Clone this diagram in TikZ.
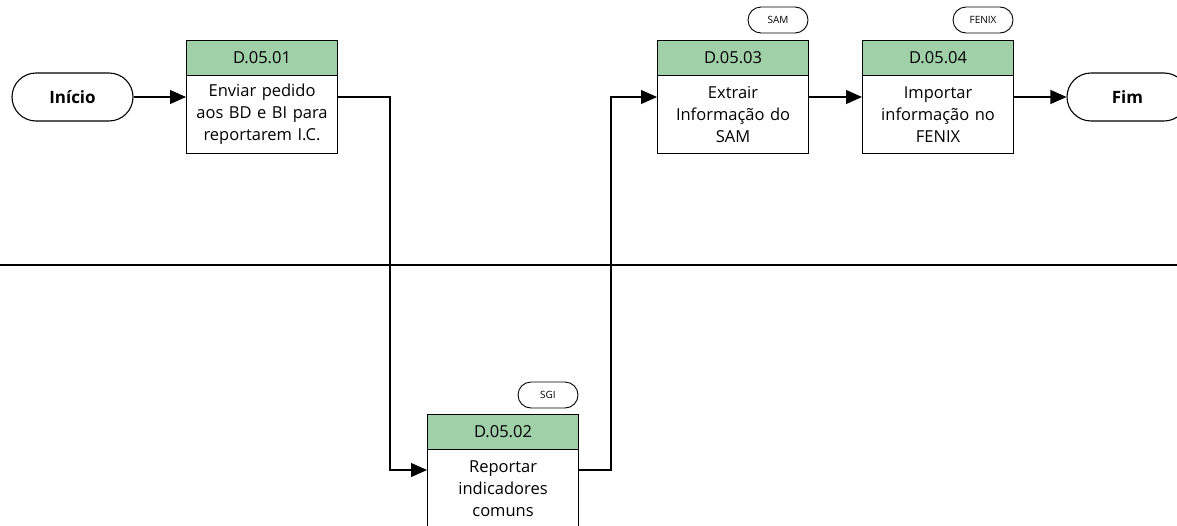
\documentclass[tikz,border=0pt]{standalone}
\usepackage{fontspec}
\setmainfont{Open Sans}
\usetikzlibrary{arrows.meta,calc}
\definecolor{hdr}{RGB}{160,208,168}
\begin{document}
\begin{tikzpicture}[x=1pt,y=-1pt,
  every node/.style={font=\fontsize{16.5}{22}\selectfont, inner sep=0pt, align=center},
  hdrbox/.style={draw=black, line width=1.1pt, fill=hdr, minimum width=151pt, minimum height=35pt, anchor=north west},
  bodybox/.style={draw=black, line width=1.1pt, fill=white, minimum width=151pt, minimum height=78pt, anchor=north west, text width=148pt},
  term/.style={draw=black, line width=1.1pt, rounded corners=24pt, minimum width=121pt, minimum height=48pt, font=\bfseries\fontsize{17}{20}\selectfont},
  tag/.style={draw=black, line width=0.9pt, rounded corners=13pt, minimum width=60pt, minimum height=26pt, font=\fontsize{10}{12}\selectfont},
  flow/.style={draw=black, line width=1.1pt, -{Triangle[length=16pt,width=14pt]}},
  plain/.style={draw=black, line width=1.1pt}]
\useasboundingbox (0,0) rectangle (1177,525);

% lane separator
\coordinate (laneL) at (0,265);
\coordinate (laneR) at (1177,265);
\draw[plain] (laneL) -- (laneR);

% terminals
\node[term] (ini) at (72.5,97) {Início};
\node[term] (fim) at (1127.5,97) {Fim};

% box 1
\node[hdrbox] (h1) at (186,40) {D.05.01};
\node[bodybox] (b1) at (186,75) {Enviar pedido\\aos BD e BI para\\reportarem I.C.};

% box 3
\node[hdrbox] (h3) at (657,40) {D.05.03};
\node[bodybox] (b3) at (657,75) {Extrair\\Informação do\\SAM};
\node[tag] (t3) at (778,20) {SAM};

% box 4
\node[hdrbox] (h4) at (862,40) {D.05.04};
\node[bodybox] (b4) at (862,75) {Importar\\informação no\\FENIX};
\node[tag] (t4) at (983,20) {FENIX};

% box 2
\node[hdrbox] (h2) at (427,414) {D.05.02};
\node[bodybox] (b2) at (427,449) {Reportar\\indicadores\\comuns};
\node[tag] (t2) at (548,395) {SGI};

% connector bend coordinates
\coordinate (k1) at (390,97);
\coordinate (k2) at (390,470);
\coordinate (k3) at (611,470);
\coordinate (k4) at (611,97);

\draw[flow] (ini.east) -- (ini.east -| b1.west);
\draw[flow] (b1.east |- k1) -- (k1) -- (k2) -- (k2 -| b2.west);
\draw[flow] (b2.east |- k3) -- (k3) -- (k4) -- (k4 -| b3.west);
\draw[flow] (b3.east |- fim.west) -- (b4.west |- fim.west);
\draw[flow] (b4.east |- fim.west) -- (fim.west);
\end{tikzpicture}
\end{document}
